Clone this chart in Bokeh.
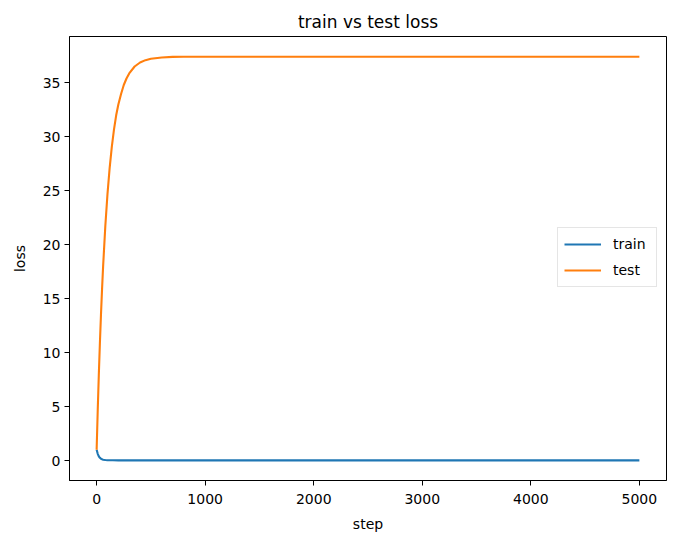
from bokeh.plotting import figure
from bokeh.models import Range1d, FixedTicker, Legend, LegendItem
from bokeh.embed import file_html
from bokeh.resources import INLINE

train_steps = [0, 10, 20, 30, 40, 50, 60, 80, 100, 150, 200, 300, 1000, 5000]
train_loss = [1.0, 0.62, 0.39, 0.25, 0.16, 0.11, 0.075, 0.045, 0.03, 0.02, 0.015, 0.012, 0.01, 0.01]

test_steps = [0, 10, 20, 30, 40, 50, 60, 80, 100, 120, 140, 160, 180, 200, 225, 250, 275,
              300, 350, 400, 450, 500, 600, 700, 800, 1000, 5000]
test_loss = [1.0, 4.64, 7.91, 10.86, 13.51, 15.9, 18.05, 21.72, 24.7, 27.11, 29.07, 30.67,
             31.97, 32.97, 33.95, 34.78, 35.38, 35.85, 36.49, 36.86, 37.08, 37.21, 37.33,
             37.38, 37.39, 37.4, 37.4]

x_ticks = [0, 1000, 2000, 3000, 4000, 5000]
y_ticks = [0, 5, 10, 15, 20, 25, 30, 35]

FONT = "DejaVu Sans"

p = figure(width=676, height=546, output_backend="svg", toolbar_location=None,
           x_range=Range1d(-250, 5250), y_range=Range1d(-1.85, 39.27),
           min_border_left=69, min_border_right=10, min_border_top=36, min_border_bottom=66,
           title="train vs test loss")

p.title.align = "center"
p.title.text_font = FONT
p.title.text_font_size = "17px"
p.title.text_font_style = "normal"
p.title.text_color = "black"

p.xgrid.visible = False
p.ygrid.visible = False
p.outline_line_color = "black"
p.outline_line_width = 1
p.outline_line_alpha = 1

for ax in (p.xaxis[0], p.yaxis[0]):
    ax.axis_line_color = "black"
    ax.major_tick_line_color = "black"
    ax.major_tick_out = 5
    ax.major_tick_in = 0
    ax.minor_tick_line_color = None
    ax.major_label_text_font = FONT
    ax.major_label_text_font_size = "14px"
    ax.major_label_text_color = "black"
    ax.axis_label_text_font = FONT
    ax.axis_label_text_font_size = "14px"
    ax.axis_label_text_font_style = "normal"
    ax.axis_label_text_color = "black"

p.xaxis.major_label_standoff = 8
p.yaxis.major_label_standoff = 4
p.xaxis.ticker = FixedTicker(ticks=x_ticks)
p.yaxis.ticker = FixedTicker(ticks=y_ticks)
p.xaxis.axis_label = "step"
p.yaxis.axis_label = "loss"
p.xaxis.axis_label_standoff = 9
p.yaxis.axis_label_standoff = 12

r1 = p.line(train_steps, train_loss, line_color="#1f77b4", line_width=2.1)
r2 = p.line(test_steps, test_loss, line_color="#ff7f0e", line_width=2.1)

legend = Legend(items=[LegendItem(label="train", renderers=[r1]),
                       LegendItem(label="test", renderers=[r2])],
                location=(488, 193))
legend.label_text_font = FONT
legend.label_text_font_size = "14px"
legend.label_text_color = "black"
legend.glyph_width = 37
legend.glyph_height = 20
legend.label_standoff = 12
legend.label_width = 37
legend.spacing = 6
legend.padding = 6
legend.margin = 0
legend.border_line_color = "#cccccc"
legend.border_line_width = 1
legend.background_fill_alpha = 0.8
p.add_layout(legend, "center")

open("out.html", "w").write(file_html(p, INLINE))
